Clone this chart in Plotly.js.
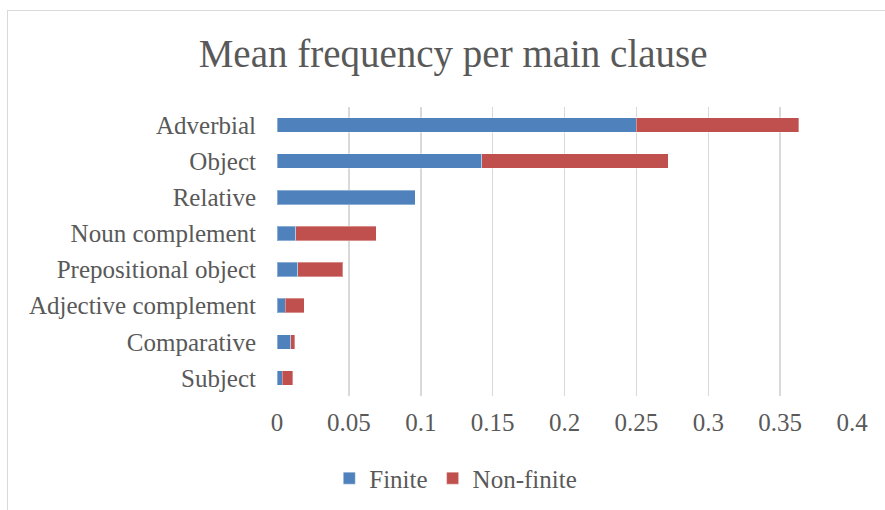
<!DOCTYPE html>
<html>
<head>
<meta charset="utf-8">
<script src="https://cdn.plot.ly/plotly-3.0.1.min.js"></script>
<style>
html,body{margin:0;padding:0;background:#fff;}
#wrap{position:relative;width:885px;height:510px;overflow:hidden;}
#chart{position:absolute;left:0;top:0;width:885px;height:510px;}
#frame{position:absolute;left:7px;top:10px;width:900px;height:520px;border:1.5px solid #d9d9d9;pointer-events:none;}
</style>
</head>
<body>
<div id="wrap"><div id="chart"></div><div id="frame"></div></div>
<script>
const categories = ["Adverbial","Object","Relative","Noun complement","Prepositional object","Adjective complement","Comparative","Subject"];
const finite    = [0.250, 0.1426, 0.096, 0.0132, 0.0144, 0.0056, 0.0095, 0.0037];
const nonFinite = [0.113, 0.1294, 0.000, 0.0557, 0.0315, 0.0132, 0.0028, 0.0074];
const xTicks = [0, 0.05, 0.1, 0.15, 0.2, 0.25, 0.3, 0.35, 0.4];
const xTickText = ["0","0.05","0.1","0.15","0.2","0.25","0.3","0.35","0.4"];

const FONT = "Liberation Serif";
const traces = [
  {type:'bar', orientation:'h', name:'Finite', y:categories, x:finite,
   marker:{color:'#4F81BD', line:{color:'rgba(255,255,255,0.35)', width:1}}},
  {type:'bar', orientation:'h', name:'Non-finite', y:categories, x:nonFinite,
   marker:{color:'#C0504D', line:{color:'rgba(255,255,255,0.35)', width:1}}}
];
const layout = {
  width:885, height:510,
  margin:{l:277, r:33, t:107, b:114, pad:0},
  barmode:'stack', bargap:0.6,
  paper_bgcolor:'#fff', plot_bgcolor:'#fff',
  font:{family:FONT, color:'#595959', size:25},
  title:{text:'Mean frequency per main clause', x:0.512, xref:'container', xanchor:'center', y:0.895, yref:'container', yanchor:'middle',
         font:{family:FONT, size:39, color:'#595959'}},
  xaxis:{range:[0,0.4], tickvals:xTicks, ticktext:xTickText, showgrid:true, gridcolor:'#d9d9d9', gridwidth:1.5,
         zeroline:false, showline:false, ticks:'', ticklabelstandoff:9, fixedrange:true,
         tickfont:{family:FONT, size:25, color:'#595959'}},
  yaxis:{type:'category', categoryorder:'array', categoryarray:categories.slice().reverse(),
         showgrid:false, zeroline:false, showline:false, ticks:'', ticklabelstandoff:20,
         tickfont:{family:FONT, size:25, color:'#595959'}},
  showlegend:true,
  legend:{orientation:'h', x:0.515, xanchor:'center', xref:'container', y:0.062, yref:'container', yanchor:'middle',
          traceorder:'normal', font:{family:FONT, size:25, color:'#595959'}, itemwidth:30}
};
Plotly.newPlot('chart', traces, layout, {staticPlot:true, displayModeBar:false});
</script>
</body>
</html>
